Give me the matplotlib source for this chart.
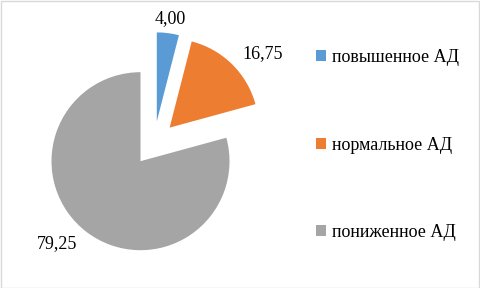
import matplotlib
matplotlib.use('Agg')
from matplotlib import pyplot as plt
from matplotlib.patches import Patch, Rectangle

# data
categories = ['повышенное АД', 'нормальное АД', 'пониженное АД']
values = [4.00, 16.75, 79.25]
value_labels = ['4,00', '16,75', '79,25']
colors = ['#5B9BD5', '#ED7D31', '#A5A5A5']

plt.rcParams['font.family'] = ['Liberation Serif', 'DejaVu Serif']

W, H = 480, 288
fig = plt.figure(figsize=(W / 100, H / 100), dpi=100)

# pie axes: radius 1 -> ~89 px, centre at (154, 143.5) from top-left
r_px = 89
cx, cy = 154, H - 143.5
span = 1.5
ax = fig.add_axes([(cx - span * r_px) / W, (cy - span * r_px) / H,
                   2 * span * r_px / W, 2 * span * r_px / H])

wedges, texts = ax.pie(values, labels=value_labels, colors=colors,
                       startangle=90, counterclock=False,
                       explode=[0.25, 0.25, 0.25], labeldistance=1.17,
                       textprops={'fontsize': 13, 'color': '#000000'})
texts[0].set_ha('center')
ax.set_xlim(-span, span)
ax.set_ylim(-span, span)
ax.set_aspect('equal')
ax.axis('off')

handles = [Patch(facecolor=c, edgecolor='none') for c in colors]
fig.legend(handles, categories, loc='upper left',
           bbox_to_anchor=(309 / W, 1 - 42 / H), frameon=False,
           fontsize=13, handlelength=0.55, handleheight=0.55,
           handletextpad=0.3, labelspacing=3.9, borderaxespad=0)

# chart border
fig.patches.append(Rectangle((0.5 / W, 0.5 / H), 1 - 1.5 / W, 1 - 1.5 / H,
                             transform=fig.transFigure, fill=False,
                             edgecolor='#D9D9D9', linewidth=1))

fig.savefig('out.png', dpi=100)
